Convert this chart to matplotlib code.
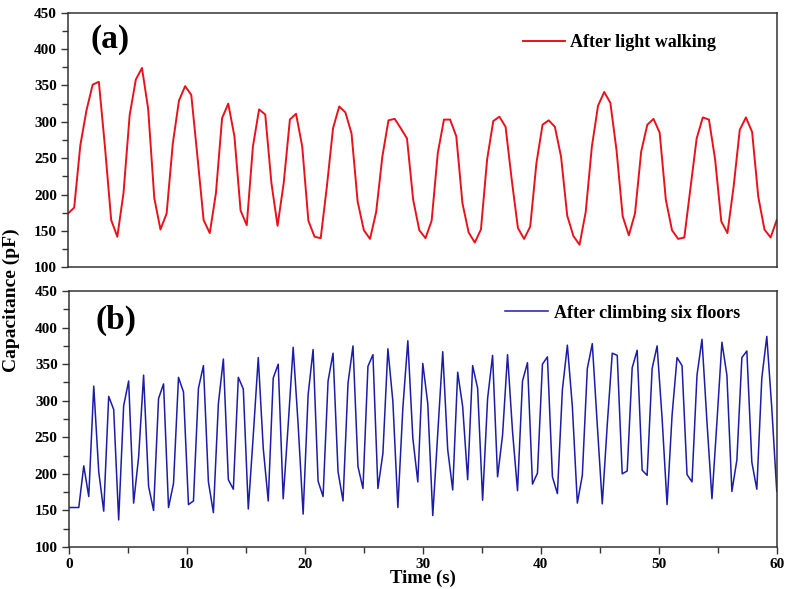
import numpy as np
import matplotlib
matplotlib.use("Agg")
import matplotlib.pyplot as plt
from matplotlib.ticker import MultipleLocator

plt.rcParams['font.family'] = ['Liberation Serif', 'DejaVu Serif']
plt.rcParams['font.weight'] = 'bold'

# Capacitance (pF) after light walking, evenly sampled over 0-60 s
walking = [174, 182, 268, 316, 351, 355, 265, 165, 142, 202, 309, 358, 374, 318, 195, 152,
           174, 270, 329, 349, 337, 252, 165, 147, 202, 305, 325, 280, 178, 158, 266, 317,
           310, 216, 157, 216, 303, 311, 266,
           164, 142, 140, 211, 291, 321, 313, 284, 190, 151, 139, 176, 252, 302, 304, 291,
           277, 193, 151, 140, 164, 257, 303, 303, 280, 188, 148, 134, 152, 248, 301, 307,
           293, 220, 154, 139, 156, 243, 296, 302,
           293, 252, 171, 143, 131, 176, 266, 322, 341, 326, 261, 170, 144, 174, 259, 296,
           304, 285, 193, 151, 139, 141, 209, 277, 306, 303, 248, 163, 147, 211, 289, 306,
           286, 197, 152, 141, 165]

# Capacitance (pF) after climbing six floors, evenly sampled over 0-60 s
climbing = [154, 154, 154, 211, 169, 320, 203, 149, 306, 288, 137, 293, 327, 160, 223, 335,
            183, 150, 303, 323, 154, 187, 332, 312,
            158, 163, 317, 348, 189, 147, 296, 357, 192, 179, 332, 316, 152, 253, 359, 235,
            163, 331, 350, 166, 267, 373, 267, 145,
            308, 370, 190, 169, 327, 365, 203, 163, 324, 375, 210, 180, 347, 363, 180, 228,
            371, 299, 154, 290, 382, 249, 189,
            351, 296, 143, 255, 367, 233, 178, 339, 292, 192, 348, 317, 164, 303, 362, 196,
            253, 363, 258, 177, 327, 352, 186, 201,
            350, 360, 196, 173, 315, 376, 292, 160, 198, 344, 378, 267, 159, 267, 365, 362,
            200, 204, 345, 369, 205, 198, 344, 375,
            276, 158, 280, 359, 348, 199, 189, 335, 384, 271, 166, 271, 380, 335, 176, 219,
            359, 368, 216, 179, 331, 388, 290, 176]

t_walk = np.linspace(0, 60, len(walking))
t_climb = np.linspace(0, 60, len(climbing))

fig = plt.figure(figsize=(7.91, 5.89), dpi=100)
ax1 = fig.add_axes([0.086, 0.5462, 0.896, 0.4323])
ax2 = fig.add_axes([0.087, 0.0713, 0.895, 0.4346])

ax1.plot(t_walk, walking, color='#e8121c', lw=1.4, label='After light walking')
ax2.plot(t_climb, climbing, color='#1c1ca8', lw=1.1, label='After climbing six floors')

for ax in (ax1, ax2):
    ax.set_xlim(0, 60)
    ax.set_ylim(100, 450)
    ax.yaxis.set_major_locator(MultipleLocator(50))
    ax.yaxis.set_minor_locator(MultipleLocator(25))
    ax.xaxis.set_major_locator(MultipleLocator(10))
    ax.xaxis.set_minor_locator(MultipleLocator(5))
    ax.tick_params(which='major', direction='out', length=5, width=1, labelsize=11,
                   pad=3, color='#333333')
    ax.tick_params(which='minor', direction='out', length=4, width=1, color='#333333')
    for s in ax.spines.values():
        s.set_linewidth(1.1)
        s.set_color('#333333')

# panel (a) has no x ticks
ax1.tick_params(axis='x', which='both', bottom=False, labelbottom=False)

ax1.text(0.032, 0.895, '(a)', transform=ax1.transAxes, fontsize=24, fontweight='bold',
         ha='left', va='center')
ax2.text(0.038, 0.885, '(b)', transform=ax2.transAxes, fontsize=24, fontweight='bold',
         ha='left', va='center')

ax1.legend(loc='center left', bbox_to_anchor=(0.642, 0.881), frameon=False, fontsize=13,
           handlelength=2.3, handletextpad=0.3, borderpad=0, borderaxespad=0)
ax2.legend(loc='center left', bbox_to_anchor=(0.616, 0.914), frameon=False, fontsize=13,
           handlelength=2.4, handletextpad=0.3, borderpad=0, borderaxespad=0)

ax2.set_xlabel('Time (s)', fontsize=13.5, fontweight='bold', labelpad=-1)
fig.text(0.014, 0.49, 'Capacitance (pF)', rotation=90, fontsize=14, fontweight='bold',
         ha='center', va='center')

fig.savefig('out.png', dpi=100)
